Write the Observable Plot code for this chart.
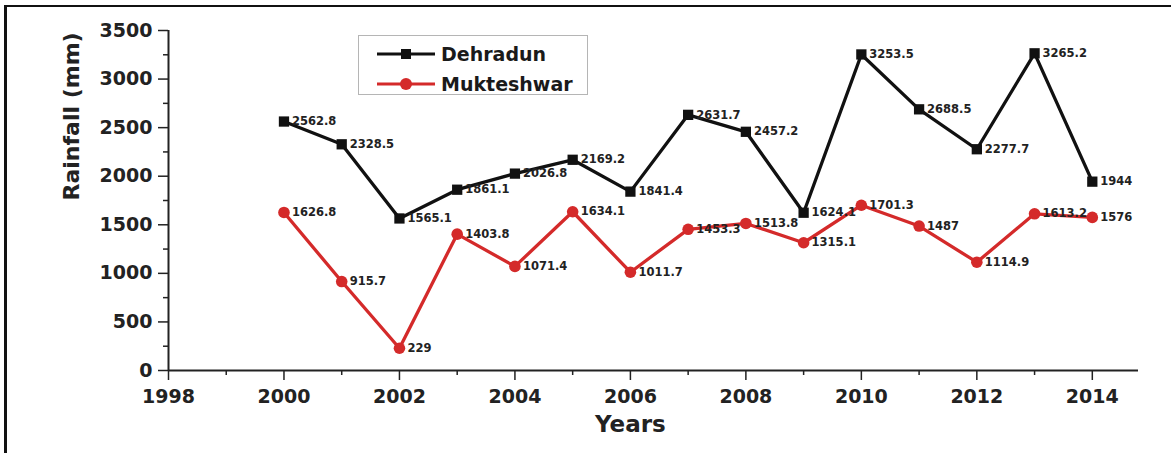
<!DOCTYPE html>
<html>
<head>
<meta charset="utf-8">
<script src="https://cdn.jsdelivr.net/npm/d3@7"></script>
<script src="https://cdn.jsdelivr.net/npm/@observablehq/plot@0.6"></script>
<style>
  html, body { margin: 0; padding: 0; background: #fff; overflow: hidden; }
  #wrap { position: relative; width: 1171px; height: 453px; }
  #frame { position: absolute; left: 4px; top: 5px; right: -5px; bottom: -10px;
           border-left: 3.5px solid #111; border-top: 2.5px solid #111; pointer-events: none; }
  #legend { position: absolute; left: 358px; top: 35px; width: 228px; height: 58px;
            border: 1.5px solid #b5b5b5; background: #fff;
            font-family: "DejaVu Sans", sans-serif; font-weight: bold; font-size: 19px; color: #1a1a1a; }
  .row { position: absolute; left: 0; height: 30px; display: flex; align-items: center; }
  .row svg { margin-left: 18px; margin-right: 6px; }
</style>
</head>
<body>
<div id="wrap">
  <div id="chart"></div>
  <div id="legend"></div>
  <div id="frame"></div>
</div>
<script>
const years = [2000, 2001, 2002, 2003, 2004, 2005, 2006, 2007, 2008, 2009, 2010, 2011, 2012, 2013, 2014];
const dehradun = [2562.8, 2328.5, 1565.1, 1861.1, 2026.8, 2169.2, 1841.4, 2631.7, 2457.2, 1624.1, 3253.5, 2688.5, 2277.7, 3265.2, 1944];
const mukteshwar = [1626.8, 915.7, 229, 1403.8, 1071.4, 1634.1, 1011.7, 1453.3, 1513.8, 1315.1, 1701.3, 1487, 1114.9, 1613.2, 1576];
const seriesNames = ["Dehradun", "Mukteshwar"];
const seriesColors = ["#111111", "#d42a2a"];
const xTicks = [1998, 2000, 2002, 2004, 2006, 2008, 2010, 2012, 2014];
const xMinor = [1999, 2001, 2003, 2005, 2007, 2009, 2011, 2013];
const yTicks = [0, 500, 1000, 1500, 2000, 2500, 3000, 3500];
const yMinor = [250, 750, 1250, 1750, 2250, 2750, 3250];
const xLabel = "Years";
const yLabel = "Rainfall (mm)";

const dataD = years.map((y, i) => ({year: y, value: dehradun[i]}));
const dataM = years.map((y, i) => ({year: y, value: mukteshwar[i]}));

const axisColor = "#222";

const chart = Plot.plot({
  width: 1171,
  height: 453,
  marginLeft: 168,
  marginRight: 33,
  marginTop: 30,
  marginBottom: 83,
  style: {fontFamily: "DejaVu Sans, sans-serif", fontWeight: "bold", background: "transparent", color: axisColor},
  x: {domain: [1998, 2014.8]},
  y: {domain: [0, 3500]},
  marks: [
    Plot.axisY({ticks: yTicks, tickSize: 10, tickPadding: 6, fontSize: 19, label: null, tickFormat: d => String(d), stroke: axisColor, strokeWidth: 1.5, fill: axisColor}),
    Plot.axisY({ticks: yMinor, tickSize: 5, tickFormat: () => "", label: null, stroke: axisColor, strokeWidth: 1.5}),
    Plot.axisX({ticks: xTicks, tickSize: 10, tickPadding: 9, fontSize: 19, label: null, tickFormat: d => String(d), stroke: axisColor, strokeWidth: 1.5, fill: axisColor}),
    Plot.axisX({ticks: xMinor, tickSize: 5, tickFormat: () => "", label: null, stroke: axisColor, strokeWidth: 1.5}),
    Plot.ruleX([1998], {y1: 0, y2: 3500, stroke: axisColor, strokeWidth: 2}),
    Plot.ruleY([0], {stroke: axisColor, strokeWidth: 2}),
    Plot.text([yLabel], {frameAnchor: "left", dx: -97, rotate: -90, fontSize: 22, fontWeight: "bold", fill: axisColor}),
    Plot.text([xLabel], {x: () => 2006, frameAnchor: "bottom", dy: 61, fontSize: 23, fontWeight: "bold", fill: axisColor}),
    Plot.line(dataM, {x: "year", y: "value", stroke: seriesColors[1], strokeWidth: 3.3}),
    Plot.dot(dataM, {x: "year", y: "value", r: 5.8, fill: seriesColors[1], stroke: "none"}),
    Plot.text(dataM, {x: "year", y: "value", text: d => String(d.value), dx: 8, textAnchor: "start", fontSize: 11.5, fontWeight: "bold", fill: "#222"}),
    Plot.line(dataD, {x: "year", y: "value", stroke: seriesColors[0], strokeWidth: 3.3}),
    Plot.dot(dataD, {x: "year", y: "value", r: 5.8, symbol: "square", fill: seriesColors[0], stroke: "none"}),
    Plot.text(dataD, {x: "year", y: "value", text: d => String(d.value), dx: 8, textAnchor: "start", fontSize: 11.5, fontWeight: "bold", fill: "#222"})
  ]
});
document.getElementById("chart").appendChild(chart);

// Legend
const legend = document.getElementById("legend");
seriesNames.forEach((name, i) => {
  const row = document.createElement("div");
  row.className = "row";
  row.style.top = (i === 0 ? 3 : 33) + "px";
  const ns = "http://www.w3.org/2000/svg";
  const svg = document.createElementNS(ns, "svg");
  svg.setAttribute("width", 58);
  svg.setAttribute("height", 20);
  const ln = document.createElementNS(ns, "line");
  ln.setAttribute("x1", 0); ln.setAttribute("x2", 58);
  ln.setAttribute("y1", 10); ln.setAttribute("y2", 10);
  ln.setAttribute("stroke", seriesColors[i]); ln.setAttribute("stroke-width", 3);
  svg.appendChild(ln);
  let m;
  if (i === 0) {
    m = document.createElementNS(ns, "rect");
    m.setAttribute("x", 24); m.setAttribute("y", 5); m.setAttribute("width", 10); m.setAttribute("height", 10);
  } else {
    m = document.createElementNS(ns, "circle");
    m.setAttribute("cx", 29); m.setAttribute("cy", 10); m.setAttribute("r", 6);
  }
  m.setAttribute("fill", seriesColors[i]);
  svg.appendChild(m);
  row.appendChild(svg);
  const t = document.createElement("span");
  t.textContent = name;
  row.appendChild(t);
  legend.appendChild(row);
});
</script>
</body>
</html>
